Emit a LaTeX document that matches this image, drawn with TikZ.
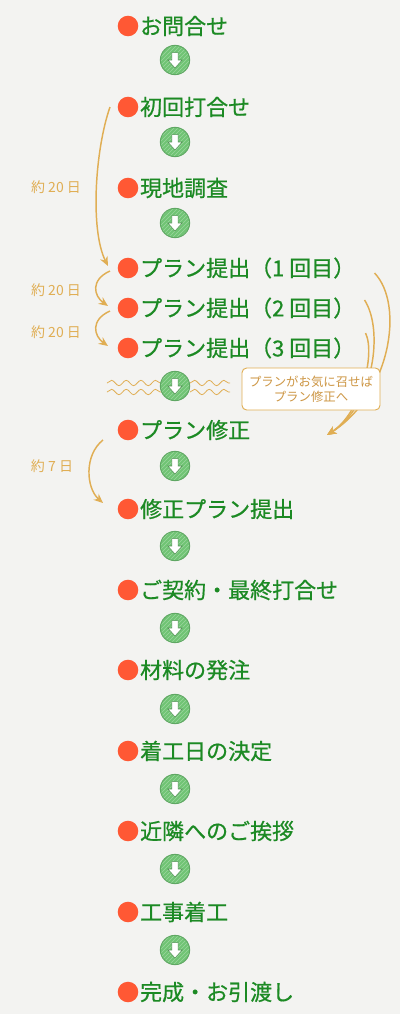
\documentclass[tikz,border=0pt]{standalone}
\usepackage{fontspec}
\newfontfamily\jpfont{Noto Sans CJK JP}
\newfontfamily\jpstepfont[FakeBold=0.7]{Noto Sans CJK JP}
\usetikzlibrary{positioning}
\usetikzlibrary{calc}
\usetikzlibrary{arrows.meta}
\usetikzlibrary{patterns}
\usetikzlibrary{decorations.pathmorphing}

\definecolor{paper}{RGB}{243,243,241}
\definecolor{stepgreen}{RGB}{28,138,36}
\definecolor{dotred}{RGB}{255,88,52}
\definecolor{circgreen}{RGB}{112,196,116}
\definecolor{daytan}{RGB}{224,174,84}
\definecolor{notetan}{RGB}{205,150,68}

\begin{document}
\begin{tikzpicture}[x=0.75pt, y=0.75pt,
  stepdot/.style={circle, fill=dotred, minimum size=15.4pt, inner sep=0pt},
  steptext/.style={inner sep=0pt, text=stepgreen, font=\jpstepfont\fontsize{16.5}{18}\selectfont},
  downcirc/.style={circle, fill=circgreen, draw=circgreen!85!black, line width=0.7pt, minimum size=22pt, inner sep=0pt,
    path picture={
      \fill [pattern=north east lines, pattern color=white, opacity=0.3] (path picture bounding box.south west) rectangle (path picture bounding box.north east);
      \filldraw [fill=white, draw=circgreen!75!black, line width=0.4pt] ([shift={(-2.4pt,5.5pt)}]path picture bounding box.center) -- ++(4.8pt,0) -- ++(0,-5.5pt) -- ++(3pt,0) -- ++(-5.4pt,-6pt) -- ++(-5.4pt,6pt) -- ++(3pt,0) -- cycle;
    }},
  daylabel/.style={inner sep=0pt, text=daytan, font=\jpfont\fontsize{10.5}{11}\selectfont},
  dayarrow/.style={draw=daytan, line width=1.1pt, -{Stealth[length=7pt, width=6pt]}},
  waveline/.style={draw=daytan, line width=0.6pt, decorate, decoration={snake, segment length=11pt, amplitude=2pt}},
  notebox/.style={draw=daytan, fill=white, rounded corners=3.5pt, line width=0.7pt, text=notetan, align=center,
    minimum width=103.5pt, minimum height=31.5pt, inner sep=1pt, font=\jpfont\fontsize{9.3}{11.2}\selectfont}
]

\fill [paper] (0, 0) rectangle (400, -1014);
\useasboundingbox (0, 0) rectangle (400, -1014);

\node [stepdot] (d1) at (128, -26) {};
\node [stepdot] (d2) at (128, -107) {};
\node [stepdot] (d3) at (128, -188) {};
\node [stepdot] (d4) at (128, -268) {};
\node [stepdot] (d5) at (128, -308) {};
\node [stepdot] (d6) at (128, -348) {};
\node [stepdot] (d7) at (128, -430) {};
\node [stepdot] (d8) at (128, -509) {};
\node [stepdot] (d9) at (128, -590) {};
\node [stepdot] (d10) at (128, -670) {};
\node [stepdot] (d11) at (128, -751) {};
\node [stepdot] (d12) at (128, -831) {};
\node [stepdot] (d13) at (128, -912) {};
\node [stepdot] (d14) at (128, -992) {};

\node [steptext, right=1pt of d1] (s1) {お問合せ};
\node [steptext, right=1pt of d2] (s2) {初回打合せ};
\node [steptext, right=1pt of d3] (s3) {現地調査};
\node [steptext, right=1pt of d4] (s4) {プラン提出（1 回目）};
\node [steptext, right=1pt of d5] (s5) {プラン提出（2 回目）};
\node [steptext, right=1pt of d6] (s6) {プラン提出（3 回目）};
\node [steptext, right=1pt of d7] (s7) {プラン修正};
\node [steptext, right=1pt of d8] (s8) {修正プラン提出};
\node [steptext, right=1pt of d9] (s9) {ご契約・最終打合せ};
\node [steptext, right=1pt of d10] (s10) {材料の発注};
\node [steptext, right=1pt of d11] (s11) {着工日の決定};
\node [steptext, right=1pt of d12] (s12) {近隣へのご挨拶};
\node [steptext, right=1pt of d13] (s13) {工事着工};
\node [steptext, right=1pt of d14] (s14) {完成・お引渡し};

\draw [waveline] (107, -383) -- (162, -383);
\draw [waveline] (107, -392) -- (162, -392);
\draw [waveline] (190, -383) -- (230, -383);
\draw [waveline] (190, -392) -- (230, -392);

\node [downcirc] (a1) at (175, -60) {};
\node [downcirc] (a2) at (175, -142) {};
\node [downcirc] (a3) at (175, -223) {};
\node [downcirc] (a4) at (175, -386) {};
\node [downcirc] (a5) at (175, -466) {};
\node [downcirc] (a6) at (175, -546) {};
\node [downcirc] (a7) at (175, -628) {};
\node [downcirc] (a8) at (175, -709) {};
\node [downcirc] (a9) at (175, -789) {};
\node [downcirc] (a10) at (175, -869) {};
\node [downcirc] (a11) at (175, -950) {};

\node [daylabel] (l1) at (56, -187) {約 20 日};
\node [daylabel] (l2) at (56, -290) {約 20 日};
\node [daylabel] (l3) at (56, -332) {約 20 日};
\node [daylabel] (l4) at (52, -466) {約 7 日};

\draw [dayarrow] ($(d2)+(-18,0)$) .. controls (95, -150) and (90, -230) .. ($(d4)+(-20,2)$);
\draw [dayarrow] ($(d4)+(-18,-3)$) .. controls (90, -280) and (94, -296) .. ($(d5)+(-20,2)$);
\draw [dayarrow] ($(d5)+(-18,-3)$) .. controls (90, -320) and (94, -336) .. ($(d6)+(-20,2)$);
\draw [dayarrow] ($(d7)+(-25,-10)$) .. controls (84, -455) and (86, -488) .. ($(d8)+(-25,6)$);

\coordinate (fixtip) at (327, -435);
\draw [dayarrow] ($(s4.east)+(19,-5)$) .. controls (405, -305) and (390, -395) .. (fixtip);
\draw [dayarrow] ($(s5.east)+(9,8)$) .. controls (384, -330) and (374, -405) .. (fixtip);
\draw [dayarrow] ($(s6.east)+(10,15)$) .. controls (376, -355) and (360, -414) .. (fixtip);

\node [notebox] (note) at (311, -389) {プランがお気に召せば\\プラン修正へ};

\end{tikzpicture}
\end{document}
